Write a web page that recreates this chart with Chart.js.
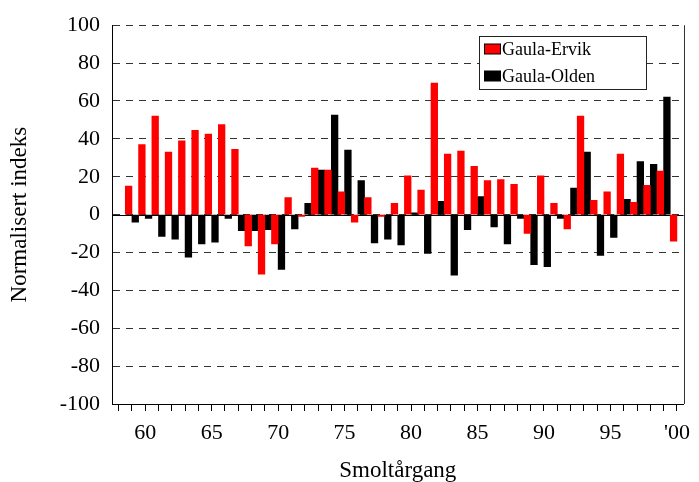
<!DOCTYPE html>
<html>
<head>
<meta charset="utf-8">
<script src="https://cdn.jsdelivr.net/npm/chart.js@4/dist/chart.umd.min.js"></script>
<style>
  html, body { margin: 0; padding: 0; background: #fff; }
  #wrap { width: 699px; height: 482px; }
</style>
</head>
<body>
<div id="wrap"><canvas id="smoltChart" width="699" height="482"></canvas></div>
<script>
// smolt years (58 has no data)
const years = [1958, 1959, 1960, 1961, 1962, 1963, 1964, 1965, 1966, 1967, 1968,
  1969, 1970, 1971, 1972, 1973, 1974, 1975, 1976, 1977, 1978, 1979, 1980,
  1981, 1982, 1983, 1984, 1985, 1986, 1987, 1988, 1989, 1990, 1991, 1992,
  1993, 1994, 1995, 1996, 1997, 1998, 1999, 2000];

const tickLabels = ['', '', '60', '', '', '', '', '65', '', '', '', '', '70', '', '', '', '', '75',
  '', '', '', '', '80', '', '', '', '', '85', '', '', '', '', '90', '', '', '', '', '95',
  '', '', '', '', "'00"];

const gaulaErvik = [null, 15, 37, 52, 33, 39, 44.5, 42.5, 47.5, 34.5, -16.5,
  -31.5, -15.5, 9, -1, 24.5, 23.5, 12, -4, 9, -1, 6, 20.5,
  13, 69.5, 32, 33.5, 25.5, 18, 18.5, 16, -10, 20.5, 6, -7.5,
  52, 7.5, 12, 32, 6.5, 15.5, 23, -14];

const gaulaOlden = [null, -4, -2, -11.5, -13, -22.5, -15.5, -14.5, -2, -8.5, -8.5,
  -8, -29, -7.5, 6, 23.5, 52.5, 34, 18, -15, -13, -16, 1,
  -20.5, 7, -32, -8, 9.5, -6.5, -15.5, -2, -26.5, -27.5, -2, 14,
  33, -21.5, -12, 8, 28, 26.5, 62, null];

const serif = "'Liberation Serif', 'Times New Roman', serif";

// zero line, right frame and the boxed legend
const extras = {
  id: 'extras',
  beforeDatasetsDraw(chart) {
    const { ctx, chartArea } = chart;
    const y0 = Math.round(chart.scales.y.getPixelForValue(0)) + 0.5;
    ctx.save();
    ctx.strokeStyle = '#000';
    ctx.lineWidth = 1;
    ctx.beginPath();
    ctx.moveTo(chartArea.left, y0);
    ctx.lineTo(chartArea.right, y0);
    ctx.stroke();
    ctx.restore();
  },
  afterDraw(chart) {
    const { ctx, chartArea } = chart;
    ctx.save();
    ctx.strokeStyle = '#333';
    ctx.lineWidth = 1;
    ctx.beginPath();
    ctx.moveTo(Math.round(chartArea.right) + 0.5, chartArea.top);
    ctx.lineTo(Math.round(chartArea.right) + 0.5, chartArea.bottom);
    ctx.stroke();

    // legend
    const bx = 479.5, by = 36.5, bw = 167, bh = 53;
    ctx.fillStyle = '#fff';
    ctx.fillRect(bx, by, bw, bh);
    ctx.strokeStyle = '#222';
    ctx.strokeRect(bx, by, bw, bh);
    ctx.font = '18px ' + serif;
    ctx.textBaseline = 'middle';
    chart.data.datasets.forEach((ds, i) => {
      const cy = 49 + i * 27;
      ctx.fillStyle = ds.backgroundColor;
      ctx.fillRect(484.5, cy - 5, 16, 10);
      ctx.strokeStyle = '#000';
      ctx.strokeRect(484.5, cy - 5, 16, 10);
      ctx.fillStyle = '#000';
      ctx.fillText(ds.label, 502, cy + 1);
    });
    ctx.restore();
  }
};

const ctx = document.getElementById('smoltChart').getContext('2d');
new Chart(ctx, {
  type: 'bar',
  data: {
    labels: years,
    datasets: [
      { label: 'Gaula-Ervik', data: gaulaErvik, backgroundColor: '#ff0000', borderWidth: 0 },
      { label: 'Gaula-Olden', data: gaulaOlden, backgroundColor: '#000000', borderWidth: 0 }
    ]
  },
  options: {
    responsive: false,
    animation: false,
    devicePixelRatio: 1,
    categoryPercentage: 1.0,
    barPercentage: 1.0,
    layout: { padding: { left: 0, right: 10, top: 23, bottom: 0 } },
    plugins: {
      legend: { display: false },
      tooltip: { enabled: false }
    },
    scales: {
      x: {
        offset: true,
        grid: {
          offset: false,
          drawOnChartArea: false,
          drawTicks: true,
          tickLength: 7,
          color: '#000'
        },
        border: { display: true, color: '#000', width: 1 },
        ticks: {
          autoSkip: false,
          maxRotation: 0,
          minRotation: 0,
          padding: 9,
          color: '#000',
          font: { family: serif, size: 22 },
          callback: (val, i) => tickLabels[i]
        },
        title: {
          display: true,
          text: 'Smoltårgang',
          color: '#000',
          font: { family: serif, size: 23 },
          padding: { top: 0, bottom: -3 }
        },
        afterFit: (scale) => { scale.height = 78; }
      },
      y: {
        min: -100,
        max: 100,
        ticks: {
          stepSize: 20,
          padding: 12,
          color: '#000',
          font: { family: serif, size: 22 }
        },
        grid: {
          drawTicks: false,
          color: '#333',
          lineWidth: 1
        },
        border: { display: true, color: '#000', width: 1, dash: [7, 6] },
        title: {
          display: true,
          text: 'Normalisert indeks',
          color: '#000',
          font: { family: serif, size: 23 },
          padding: { top: 6, bottom: 0 }
        },
        afterFit: (scale) => { scale.width = 112; }
      }
    }
  },
  plugins: [extras]
});
</script>
</body>
</html>
